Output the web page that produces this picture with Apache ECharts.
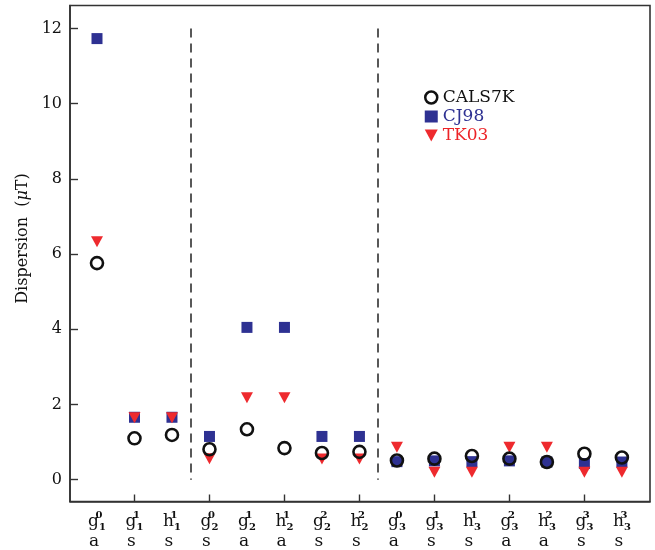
<!DOCTYPE html>
<html>
<head>
<meta charset="utf-8">
<script src="https://cdn.jsdelivr.net/npm/echarts@6/dist/echarts.min.js"></script>
<style>html,body{margin:0;padding:0;background:#fff}#c{width:655px;height:550px}</style>
</head>
<body>
<div id="c"></div>
<script>
// Gauss coefficient categories
const coefLetters = ['g','g','h','g','g','h','g','h','g','g','h','g','h','g','h'];
const coefDegree  = ['0','1','1','0','1','1','2','2','0','1','1','2','2','3','3'];
const coefOrder   = ['1','1','1','2','2','2','2','2','3','3','3','3','3','3','3'];
const coefType    = ['a','s','s','s','a','a','s','s','a','s','s','a','a','s','s'];

// Dispersion values (μT)
const cals7k = [5.76, 1.10, 1.19, 0.81, 1.34, 0.84, 0.71, 0.74, 0.51, 0.56, 0.63, 0.56, 0.47, 0.69, 0.59];
const cj98   = [11.73, 1.66, 1.66, 1.15, 4.05, 4.05, 1.15, 1.15, 0.48, 0.50, 0.48, 0.50, 0.47, 0.43, 0.47];
const tk03   = [6.33, 1.65, 1.65, 0.56, 2.18, 2.18, 0.55, 0.55, 0.86, 0.20, 0.20, 0.86, 0.86, 0.20, 0.20];

// separators between degree groups
const separators = [2.5, 7.5];
const yTicks = [0, 2, 4, 6, 8, 10, 12];

const FONT = 'DejaVu Serif';
const toPts = arr => arr.map((v, i) => [i, v]);
const DOWN_TRI = 'path://M0,0 L12,0 L6,11 Z';

const chart = echarts.init(document.getElementById('c'), null, {renderer: 'canvas'});
chart.setOption({
  animation: false,
  backgroundColor: '#fff',
  grid: {left: 70, right: 5, top: 5.5, bottom: 48, show: true, borderColor: '#333', borderWidth: 1.6, backgroundColor: 'transparent'},
  legend: {
    orient: 'vertical', left: 424, top: 89, itemGap: 2, itemWidth: 13, itemHeight: 12, padding: 0,
    textStyle: {fontFamily: FONT, fontSize: 17, lineHeight: 17},
    data: [
      {name: 'CALS7K', icon: 'circle', itemStyle: {color: 'rgba(255,255,255,0)', borderColor: '#111', borderWidth: 2.5}, textStyle: {color: '#111'}},
      {name: 'CJ98', icon: 'rect', itemStyle: {color: '#2e3192'}, textStyle: {color: '#2e3192'}},
      {name: 'TK03', icon: DOWN_TRI, itemStyle: {color: '#ee2a2e'}, textStyle: {color: '#ec2327'}}
    ]
  },
  xAxis: {
    type: 'value', min: -0.72, max: 14.75,
    splitLine: {show: false},
    axisLine: {show: true, onZero: false, lineStyle: {color: '#333', width: 1.6}},
    axisTick: {show: true, inside: true, length: 7, lineStyle: {color: '#333', width: 1.4}, customValues: [1, 3, 5, 7, 9, 11, 13]},
    axisLabel: {
      customValues: coefLetters.map((_, i) => i),
      margin: 9,
      formatter: v => {
        const i = Math.round(v);
        return '{m|' + coefLetters[i] + '}{sp|' + coefDegree[i] + '}{sb|' + coefOrder[i] + '}\n{t|' + coefType[i] + '}';
      },
      rich: {
        m: {fontFamily: FONT, fontSize: 17, lineHeight: 22, color: '#111', verticalAlign: 'middle'},
        sp: {fontFamily: FONT, fontSize: 10, lineHeight: 11, width: 0.1, color: '#111', verticalAlign: 'top', fontWeight: 'bold'},
        sb: {fontFamily: FONT, fontSize: 10, lineHeight: 11, color: '#111', verticalAlign: 'bottom', fontWeight: 'bold'},
        t: {fontFamily: FONT, fontSize: 17, lineHeight: 18, color: '#111', padding: [0, 6, 0, 0]}
      }
    }
  },
  yAxis: {
    type: 'value', min: -0.58, max: 12.61,
    name: 'Dispersion  ({i|μ}T)',
    nameLocation: 'middle', nameGap: 38, nameRotate: 90,
    nameTextStyle: {fontFamily: FONT, fontSize: 16, color: '#111', padding: [0, 0, 0, 30],
      rich: {i: {fontFamily: FONT, fontSize: 16, fontStyle: 'italic', color: '#111'}}},
    splitLine: {show: false},
    axisLine: {show: true, onZero: false, lineStyle: {color: '#333', width: 1.6}},
    axisTick: {show: true, inside: true, length: 8, lineStyle: {color: '#333', width: 1.4}, customValues: yTicks},
    axisLabel: {customValues: yTicks, fontFamily: FONT, fontSize: 16, color: '#111', margin: 8}
  },
  series: [
    {
      name: 'CJ98', type: 'scatter', z: 2, symbol: 'rect', symbolSize: 11,
      itemStyle: {color: '#2e3192', opacity: 1},
      data: toPts(cj98),
      markLine: {
        silent: true, symbol: 'none', label: {show: false},
        lineStyle: {color: '#222', type: [9, 6], width: 1.5},
        data: separators.map(x => [{coord: [x, 12]}, {coord: [x, 0]}])
      }
    },
    {
      name: 'TK03', type: 'scatter', z: 3, symbol: 'triangle', symbolRotate: 180, symbolSize: [12, 11],
      itemStyle: {color: '#ee2a2e', opacity: 1},
      data: toPts(tk03)
    },
    {
      name: 'CALS7K', type: 'scatter', z: 4, symbol: 'circle', symbolSize: 12,
      itemStyle: {color: 'rgba(255,255,255,0)', borderColor: '#111', borderWidth: 2.6, opacity: 1},
      data: toPts(cals7k)
    }
  ]
});
</script>
</body>
</html>
